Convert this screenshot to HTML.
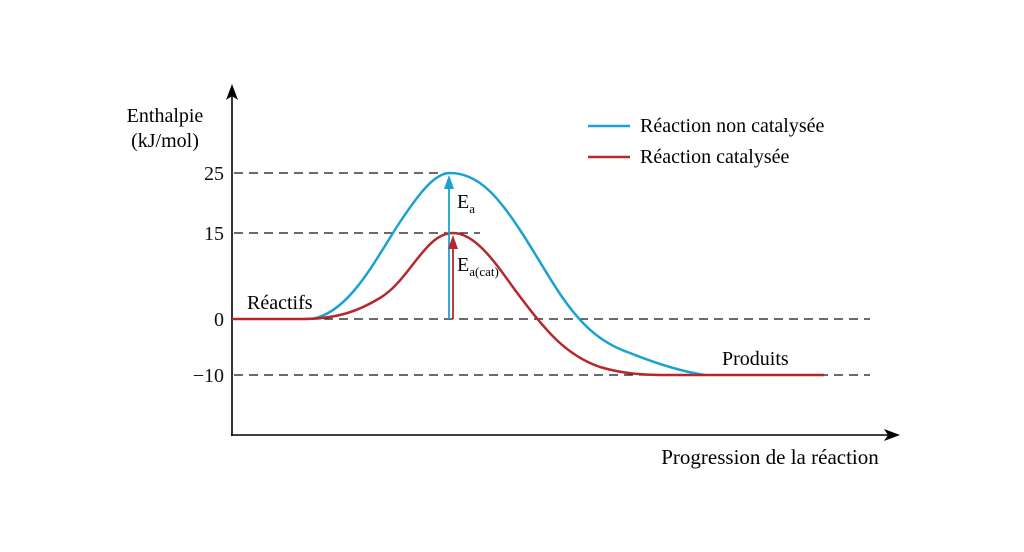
<!DOCTYPE html>
<html><head><meta charset="utf-8"><style>
html,body{margin:0;padding:0;background:#fff;}
svg{display:block;font-family:"Liberation Serif",serif;}
</style></head><body>
<svg width="1024" height="552" viewBox="0 0 1024 552">
<!-- axes -->
<line x1="232" y1="436" x2="232" y2="92" stroke="#000" stroke-width="1.6"/>
<path d="M226,100 L232,84 L238,100 L232,96z" fill="#000"/>
<line x1="231" y1="435" x2="892" y2="435" stroke="#000" stroke-width="1.6"/>
<path d="M884,429 L900,435 L884,441 L888,435z" fill="#000"/>
<!-- dashed -->
<g stroke="#111" stroke-width="1.2" stroke-dasharray="9,6">
<line x1="234" y1="173" x2="452" y2="173"/>
<line x1="234" y1="233" x2="480" y2="233"/>
<line x1="234" y1="319" x2="870" y2="319"/>
<line x1="234" y1="375" x2="870" y2="375"/>
</g>
<!-- tick labels -->
<g font-size="20" text-anchor="end" fill="#111">
<text x="224" y="180">25</text>
<text x="224" y="240">15</text>
<text x="224" y="326">0</text>
<text x="224" y="382">−10</text>
</g>
<text x="165" y="122" font-size="20" text-anchor="middle">Enthalpie</text>
<text x="165" y="147" font-size="20" text-anchor="middle">(kJ/mol)</text>
<text x="770" y="464" font-size="21" text-anchor="middle">Progression de la réaction</text>
<text x="247" y="309" font-size="20">Réactifs</text>
<text x="722" y="365" font-size="20">Produits</text>
<!-- curves -->
<path d="M312,319 C350,312 375,260 400,222 C420,192 435,173 450,173 C480,173 500,200 520,230 C545,268 560,300 585,325 C600,340 615,348 630,353 C660,365 685,372 705,375" fill="none" stroke="#1ba3cf" stroke-width="2.5"/>
<path d="M232,319 L300,319 C340,319 360,310 380,298 C410,280 425,233 453,233 C475,233 495,262 515,290 C545,330 565,355 600,367 C620,373 640,375 660,375 L824,375" fill="none" stroke="#b5282c" stroke-width="2.5"/>
<!-- arrows -->
<line x1="449" y1="319" x2="449" y2="185" stroke="#1ba3cf" stroke-width="1.8"/>
<path d="M444,189 L449,175 L454,189z" fill="#1ba3cf"/>
<line x1="453" y1="319" x2="453" y2="245" stroke="#b5282c" stroke-width="1.8"/>
<path d="M448,249 L453,235 L458,249z" fill="#b5282c"/>
<text x="457" y="208" font-size="20">E<tspan font-size="13" dy="5">a</tspan></text>
<text x="457" y="271" font-size="20">E<tspan font-size="13" dy="5">a(cat)</tspan></text>
<!-- legend -->
<line x1="588" y1="126" x2="630" y2="126" stroke="#1ba3cf" stroke-width="2.5"/>
<text x="640" y="132" font-size="20">Réaction non catalysée</text>
<line x1="588" y1="157" x2="630" y2="157" stroke="#b5282c" stroke-width="2.5"/>
<text x="640" y="163" font-size="20">Réaction catalysée</text>
</svg>
</body></html>
